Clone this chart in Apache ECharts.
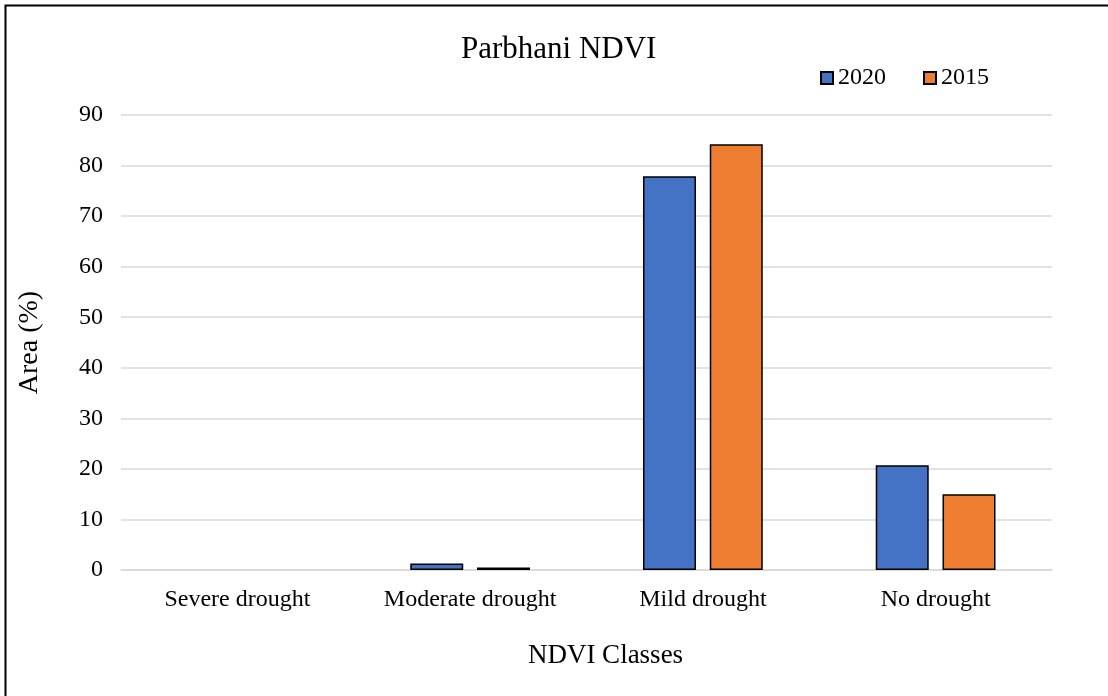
<!DOCTYPE html>
<html><head><meta charset="utf-8">
<script src="https://cdn.jsdelivr.net/npm/echarts@6/dist/echarts.min.js"></script>
<style>html,body{margin:0;padding:0;background:#fff}#c{width:1108px;height:696px}</style>
</head><body><div id="c"></div>
<script>
const categories = ['Severe drought', 'Moderate drought', 'Mild drought', 'No drought'];
const series2020 = [0, 1.3, 77.9, 20.7];
const series2015 = [0, 0.5, 84.2, 15.0];
const yTicks = [0, 10, 20, 30, 40, 50, 60, 70, 80, 90];

const font = 'Liberation Serif, Times New Roman, serif';
const hideZero = arr => arr.map(v => (v === 0 ? '-' : v));
const chart = echarts.init(document.getElementById('c'));
chart.setOption({
  backgroundColor: '#fff',
  animation: false,
  textStyle: { fontFamily: font },
  graphic: [{
    type: 'rect', silent: true,
    shape: { x: 5.5, y: 5.5, width: 1300, height: 900 },
    style: { fill: 'none', stroke: '#000', lineWidth: 2 }
  }],
  title: {
    text: 'Parbhani NDVI', left: 456, top: 29,
    textStyle: { fontFamily: font, fontSize: 31, fontWeight: 'normal', color: '#000' }
  },
  legend: {
    left: 815, top: 61, itemWidth: 12, itemHeight: 12, itemGap: 37,
    icon: 'rect',
    textStyle: { fontFamily: font, fontSize: 24, color: '#000' },
    data: ['2020', '2015']
  },
  grid: { left: 121, right: 56, top: 115, bottom: 126, containLabel: false },
  xAxis: {
    type: 'category', data: categories,
    name: 'NDVI Classes', nameLocation: 'middle', nameGap: 72,
    nameTextStyle: { fontFamily: font, fontSize: 27, color: '#000', padding: [0, 0, 0, 38] },
    axisLine: { lineStyle: { color: '#d9d9d9', width: 1.5 } },
    axisTick: { show: false },
    axisLabel: { fontFamily: font, fontSize: 24, color: '#000', margin: 18 }
  },
  yAxis: {
    type: 'value', min: 0, max: 90, interval: 10,
    name: 'Area (%)', nameLocation: 'middle', nameGap: 77,
    nameTextStyle: { fontFamily: font, fontSize: 28, color: '#000' },
    axisLine: { show: false }, axisTick: { show: false },
    axisLabel: { fontFamily: font, fontSize: 24, color: '#000', margin: 18,
      formatter: v => yTicks.includes(v) ? String(v) : '' },
    splitLine: { lineStyle: { color: '#d9d9d9', width: 1.5 } }
  },
  series: [
    { name: '2020', type: 'bar', data: hideZero(series2020), barWidth: 53, barGap: '26%',
      itemStyle: { color: '#4472C4', borderColor: '#000', borderWidth: 1.5 } },
    { name: '2015', type: 'bar', data: hideZero(series2015), barWidth: 53,
      itemStyle: { color: '#ED7D31', borderColor: '#000', borderWidth: 1.5 } }
  ]
});
</script></body></html>
